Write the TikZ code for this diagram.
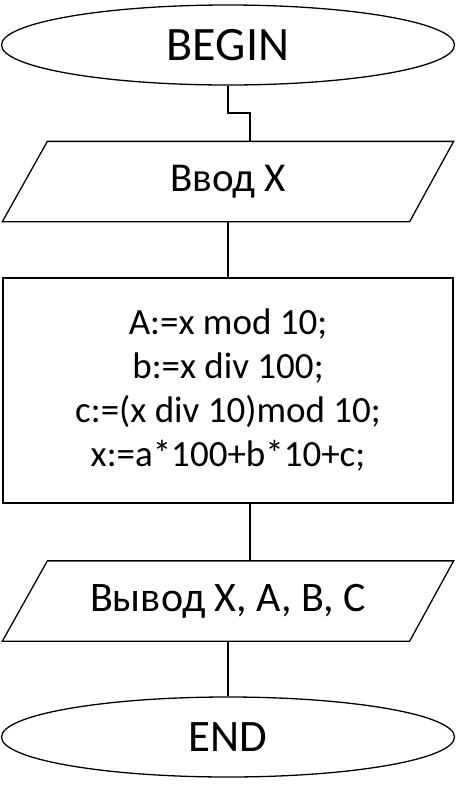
\documentclass[tikz,border=0pt]{standalone}
\usepackage{fontspec}
\setmainfont{Carlito}
\usetikzlibrary{shapes.geometric}

\begin{document}
\begin{tikzpicture}[x=1pt,y=-1pt,line width=1.3pt,
    term/.style={ellipse,draw,minimum width=453pt,minimum height=80pt,inner sep=0pt},
    io/.style={rectangle,minimum width=450pt,minimum height=79pt,inner sep=0pt},
    proc/.style={rectangle,draw,minimum width=450pt,minimum height=225pt,align=center,font=\fontsize{37}{44}\selectfont}]
                \useasboundingbox (0,0) rectangle (456,790);
                \node[term,font=\fontsize{48}{48}\selectfont] (begin) at (228,45) {BEGIN};
                \node[io,font=\fontsize{41}{41}\selectfont] (in) at (228,181.5) {Ввод X};
                \node[proc] (calc) at (228,390.5) {A:=x mod 10;\\ b:=x div 100;\\ c:=(x div 10)mod 10;\\ x:=a*100+b*10+c;};
                \node[io,font=\fontsize{42}{42}\selectfont] (out) at (228,601) {Вывод X, A, B, C};
                \node[term,font=\fontsize{45}{45}\selectfont] (end) at (228,737) {END};
                \draw (in.south west) -- ([xshift=45pt]in.north west) -- (in.north east) -- ([xshift=-44pt]in.south east) -- cycle;
                \draw (out.south west) -- ([xshift=45pt]out.north west) -- (out.north east) -- ([xshift=-44pt]out.south east) -- cycle;
                \coordinate (k1) at (250,113);
                \coordinate (k2) at (250,503);
                \draw (begin.south) |- (k1) -- (k1 |- in.north);
                \draw (in.south) -- (calc.north);
                \draw (k2) -- (k2 |- out.north);
                \draw (out.south) -- (end.north);
              \end{tikzpicture}
\end{document}
